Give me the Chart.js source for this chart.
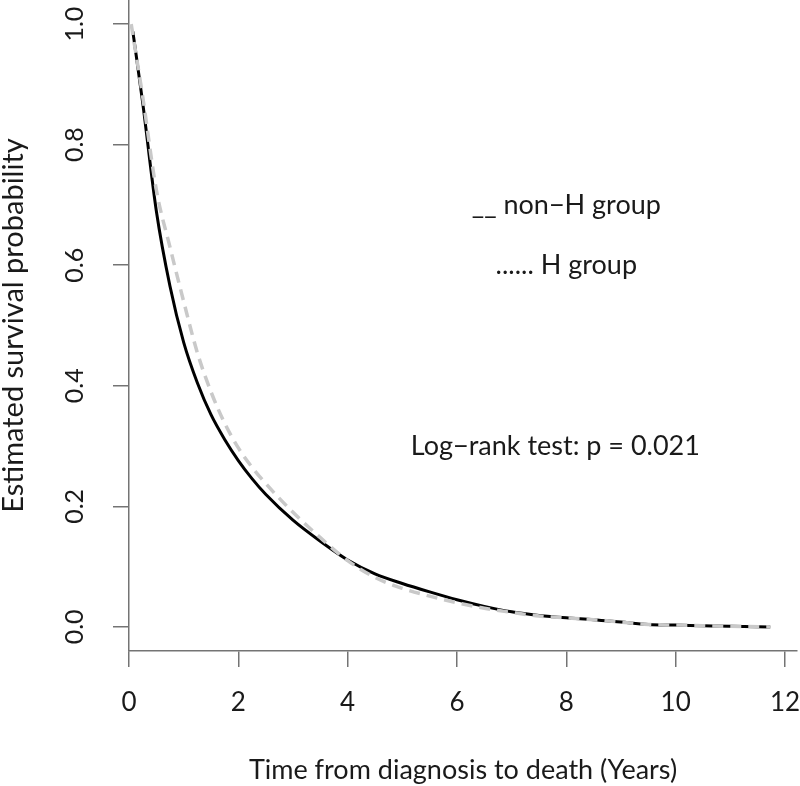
<!DOCTYPE html>
<html>
<head>
<meta charset="utf-8">
<script src="https://cdn.jsdelivr.net/npm/chart.js@4.4.0/dist/chart.umd.min.js"></script>
<style>
  html, body { margin: 0; padding: 0; background: #fff; }
</style>
</head>
<body>
<canvas id="survivalChart" width="800" height="786"></canvas>
<script>
// survival curves (years, probability)
var nonHTimes = [0.07, 0.25, 0.5, 0.75, 1.0, 1.25, 1.5, 1.75, 2.0, 2.25, 2.5, 3.0, 3.5, 4.0, 4.5, 5.0, 5.5, 6.0, 6.5, 7.0, 7.5, 8.0, 8.5, 9.0, 9.5, 10.0, 10.5, 11.0, 11.73];
var nonHSurv = [0.988, 0.87, 0.69, 0.565, 0.472, 0.405, 0.352, 0.311, 0.276, 0.246, 0.22, 0.177, 0.142, 0.111, 0.088, 0.072, 0.058, 0.045, 0.034, 0.025, 0.019, 0.015, 0.012, 0.008, 0.004, 0.003, 0.002, 0.001, 0.0];

var hTimes = [0.04, 0.25, 0.5, 0.75, 1.0, 1.25, 1.5, 1.75, 2.0, 2.25, 2.5, 3.0, 3.5, 4.0, 4.5, 5.0, 5.5, 6.0, 6.5, 7.0, 7.5, 8.0, 8.5, 9.0, 9.5, 10.0, 10.5, 11.0, 11.73];
var hSurv = [1.0, 0.88, 0.725, 0.63, 0.54, 0.455, 0.39, 0.338, 0.297, 0.265, 0.238, 0.19, 0.148, 0.11, 0.082, 0.064, 0.051, 0.04, 0.031, 0.024, 0.018, 0.015, 0.012, 0.008, 0.004, 0.003, 0.002, 0.001, 0.0];

var xTicks = [0, 2, 4, 6, 8, 10, 12];
var yTicks = [0, 0.2, 0.4, 0.6, 0.8, 1.0];

// text placed on the plot in data units
var notes = ["__ non\u2212H group", "...... H group", "Log\u2212rank test: p = 0.021"];
var noteX = [8, 8, 7.8];
var noteY = [0.7, 0.6, 0.3];

var fontFamily = "Lato";
var axisGrey = "#747474";
var textColor = "#1a1a1a";

function toPoints(xs, ys) {
  var pts = [];
  for (var i = 0; i < xs.length; i++) {
    pts.push({ x: xs[i], y: ys[i] });
  }
  return pts;
}

var notesPlugin = {
  id: "notes",
  afterDraw: function (chart) {
    var ctx = chart.ctx;
    var xs = chart.scales.x;
    var ys = chart.scales.y;
    ctx.save();
    ctx.fillStyle = textColor;
    ctx.font = "27px " + fontFamily;
    ctx.textAlign = "center";
    ctx.textBaseline = "middle";
    for (var i = 0; i < notes.length; i++) {
      ctx.fillText(notes[i], xs.getPixelForValue(noteX[i]), ys.getPixelForValue(noteY[i]));
    }
    ctx.restore();
  },
};

new Chart(document.getElementById("survivalChart"), {
  type: "line",
  data: {
    datasets: [
      {
        label: "H group",
        data: toPoints(hTimes, hSurv),
        borderColor: "#c9c9c9",
        borderWidth: 3.5,
        borderDash: [11, 7],
        pointRadius: 0,
        cubicInterpolationMode: "monotone",
        order: 0,
      },
      {
        label: "non-H group",
        data: toPoints(nonHTimes, nonHSurv),
        borderColor: "#000000",
        borderWidth: 3,
        pointRadius: 0,
        cubicInterpolationMode: "monotone",
        order: 1,
      },
    ],
  },
  options: {
    responsive: false,
    animation: false,
    devicePixelRatio: 1,
    layout: { padding: { top: 0, right: 3, bottom: 0, left: 0 } },
    plugins: {
      legend: { display: false },
      tooltip: { enabled: false },
    },
    scales: {
      x: {
        type: "linear",
        min: 0,
        max: 12.22,
        afterBuildTicks: function (s) {
          s.ticks = xTicks.map(function (v) { return { value: v }; });
        },
        afterFit: function (s) {
          s.height = 135;
          s.paddingLeft = 0;
          s.paddingRight = 0;
        },
        grid: { drawOnChartArea: false, drawTicks: true, tickLength: 16, color: axisGrey, lineWidth: 1.5 },
        border: { display: true, color: axisGrey, width: 1.5 },
        ticks: {
          color: textColor,
          font: { family: fontFamily, size: 26 },
          padding: 20,
          maxRotation: 0,
          autoSkip: false,
        },
        title: {
          display: true,
          text: "Time from diagnosis to death (Years)",
          color: textColor,
          font: { family: fontFamily, size: 27 },
          padding: { top: 0, bottom: 0 },
        },
      },
      y: {
        type: "linear",
        min: -0.04,
        max: 1.04,
        afterBuildTicks: function (s) {
          s.ticks = yTicks.map(function (v) { return { value: v }; });
        },
        afterFit: function (s) {
          s.width = 129;
          s.paddingTop = 0;
          s.paddingBottom = 0;
        },
        grid: { drawOnChartArea: false, drawTicks: true, tickLength: 16, color: axisGrey, lineWidth: 1.5 },
        border: { display: true, color: axisGrey, width: 1.5 },
        ticks: {
          color: textColor,
          font: { family: fontFamily, size: 25 },
          padding: 21,
          minRotation: 90,
          maxRotation: 90,
          crossAlign: "center",
          autoSkip: false,
          callback: function (v) { return v.toFixed(1); },
        },
        title: {
          display: true,
          text: "Estimated survival probability",
          color: textColor,
          font: { family: fontFamily, size: 29 },
          padding: { top: -4, bottom: 0 },
        },
      },
    },
  },
  plugins: [notesPlugin],
});
</script>
</body>
</html>
